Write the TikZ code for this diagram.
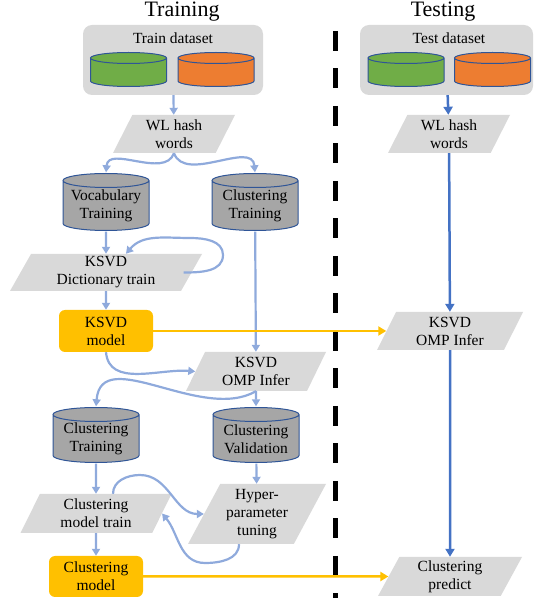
\documentclass[tikz,border=0pt]{standalone}
\usepackage{fontspec}
\setmainfont{Liberation Serif}
\usetikzlibrary{shapes.geometric,arrows.meta,calc}
\definecolor{flowGray}{HTML}{D9D9D9}
\definecolor{dbGray}{HTML}{A6A6A6}
\definecolor{dbEdge}{HTML}{2F5597}
\definecolor{arrLight}{HTML}{8FAADC}
\definecolor{arrDark}{HTML}{4472C4}
\definecolor{modelGold}{HTML}{FFC000}
\definecolor{setGreen}{HTML}{70AD47}
\definecolor{setOrange}{HTML}{ED7D31}

\begin{document}
\begin{tikzpicture}[x=1pt,y=1pt,
  every node/.style={font=\rmfamily\fontsize{15.5}{18}\selectfont, align=center, inner sep=1pt},
  procbox/.style={trapezium, trapezium left angle=58, trapezium right angle=122, trapezium stretches body, fill=flowGray},
  cylpic/.style 2 args={path picture={
    \draw[fill=#1, draw=dbEdge, line width=1pt]
      let \p1=(path picture bounding box.south west), \p2=(path picture bounding box.north east),
          \n1={(\x2-\x1)/2-1pt}, \n2={(\x1+\x2)/2} in
      (\x1+1pt,\y2-1pt-#2) -- (\x1+1pt,\y1+1pt+#2)
      arc[start angle=180, end angle=360, x radius=\n1, y radius=#2]
      -- (\x2-1pt,\y2-1pt-#2)
      arc[start angle=0, end angle=180, x radius=\n1, y radius=#2] -- cycle
      (\n2,\y2-1pt-#2) ellipse[x radius=\n1, y radius=#2];}},
  dbcyl/.style={fill=white, cylpic={dbGray}{7pt}, minimum width=88pt, minimum height=59pt},
  dbtext/.style={label={[yshift=-4pt]center:#1}},
  setcyl/.style={fill=flowGray, cylpic={#1}{5.5pt}, minimum width=78pt, minimum height=36pt},
  setbox/.style={fill=flowGray, rounded corners=9pt, minimum height=70pt},
  modelbox/.style={fill=modelGold, rounded corners=6pt, minimum width=94pt, minimum height=42pt},
  lightarr/.style={draw=arrLight, line width=2.2pt, -{Triangle[length=7pt,width=8pt]}},
  darkarr/.style={draw=arrDark, line width=2.5pt, -{Triangle[length=8pt,width=9pt]}},
  goldarr/.style={draw=modelGold, line width=2.5pt, -{Triangle[length=8pt,width=9pt]}}]
  \useasboundingbox (0,0) rectangle (538,598);
  \draw[line width=5pt, dash pattern=on 20pt off 17.5pt] (335,567) -- (335,0);

  \node[font=\rmfamily\fontsize{22}{24}\selectfont] (traintitle) at (182,586) {Training};
  \node[font=\rmfamily\fontsize{22}{24}\selectfont] (testtitle) at (443,586) {Testing};

  \node[setbox, minimum width=180pt] (trainset) at (173,538) {};
  \node (trainlabel) at (173,560) {Train dataset};
  \node[setcyl=setGreen] (traingreen) at (128.5,528.5) {};
  \node[setcyl=setOrange] (trainorange) at (216,528.5) {};
  \node[setbox, minimum width=173pt] (testset) at (446.5,538) {};
  \node (testlabel) at (449,560) {Test dataset};
  \node[setcyl=setGreen] (testgreen) at (406,528.5) {};
  \node[setcyl=setOrange] (testorange) at (492.5,528.5) {};

  \node[procbox, minimum width=122pt, minimum height=38pt] (wltrain) at (174,464) {WL hash\\words};
  \node[procbox, minimum width=122pt, minimum height=38pt] (wltest) at (449,464) {WL hash\\words};
  \node[dbcyl, dbtext={Vocabulary\\Training}] (vocab) at (106,396) {};
  \node[dbcyl, dbtext={Clustering\\Training}] (clusttrain) at (255,396) {};
  \node[procbox, minimum width=192pt, minimum height=37pt] (dict) at (106,325.5) {KSVD\\Dictionary train};
  \node[modelbox] (ksvdmodel) at (106,267) {KSVD\\model};
  \node[procbox, minimum width=140pt, minimum height=39pt] (omptrain) at (256,226.5) {KSVD\\OMP Infer};
  \node[procbox, minimum width=146pt, minimum height=38pt] (omptest) at (450,267) {KSVD\\OMP Infer};
  \node[dbcyl, minimum height=57pt, dbtext={Clustering\\Training}] (clusttrainb) at (96,163) {};
  \node[dbcyl, minimum height=57pt, dbtext={Clustering\\Validation}] (clustval) at (256,163) {};
  \node[procbox, minimum width=151pt, minimum height=39pt] (modeltrain) at (96,84.5) {Clustering\\model train};
  \node[procbox, minimum width=138pt, minimum height=60pt] (hyper) at (257,84) {Hyper-\\parameter\\tuning};
  \node[modelbox, minimum height=41pt] (clustmodel) at (96,21.5) {Clustering\\model};
  \node[procbox, minimum width=144pt, minimum height=39pt] (predict) at (450,21.5) {Clustering\\predict};

  \draw[lightarr] (trainset) -- (wltrain);
  \draw[lightarr] (wltrain.center |- wltrain.south) to[out=-110,in=85] (vocab.north);
  \draw[lightarr] (wltrain.center |- wltrain.south) to[out=-70,in=95] (clusttrain.north);
  \draw[lightarr] (vocab) -- (dict);
  \draw[lightarr] ([xshift=-8pt]dict.east) to[out=0,in=-90] (223,343) to[out=90,in=0] (190,360) to[out=180,in=50] ($(dict.center |- dict.north)+(20,0)$);
  \draw[lightarr] (ksvdmodel.south) to[out=-85,in=175] (omptrain.west);
  \draw[lightarr] (dict) -- (ksvdmodel);
  \draw[lightarr] (clusttrain) -- (omptrain);
  \draw[lightarr] (omptrain.center |- omptrain.south) to[out=-150,in=85] (clusttrainb.north);
  \draw[lightarr] (omptrain) -- (clustval);
  \draw[lightarr] (clustval) -- (hyper);
  \draw[lightarr] (clusttrainb) -- (modeltrain);
  \draw[lightarr] ($(modeltrain.center |- modeltrain.north)+(17,0)$) to[out=90,in=180] (140,123) to[out=0,in=180] (hyper.west);
  \draw[lightarr] ($(hyper.center |- hyper.south)+(-18,0)$) to[out=-90,in=0] (205,35) to[out=180,in=-50] (modeltrain.east);
  \draw[lightarr] (modeltrain) -- (clustmodel);

  \draw[darkarr] (testset) -- (wltest);
  \draw[darkarr] (wltest) -- (omptest);
  \draw[darkarr] (omptest) -- (predict);
  \draw[goldarr] (ksvdmodel) -- (omptest);
  \draw[goldarr] (clustmodel) -- (predict);
\end{tikzpicture}
\end{document}
